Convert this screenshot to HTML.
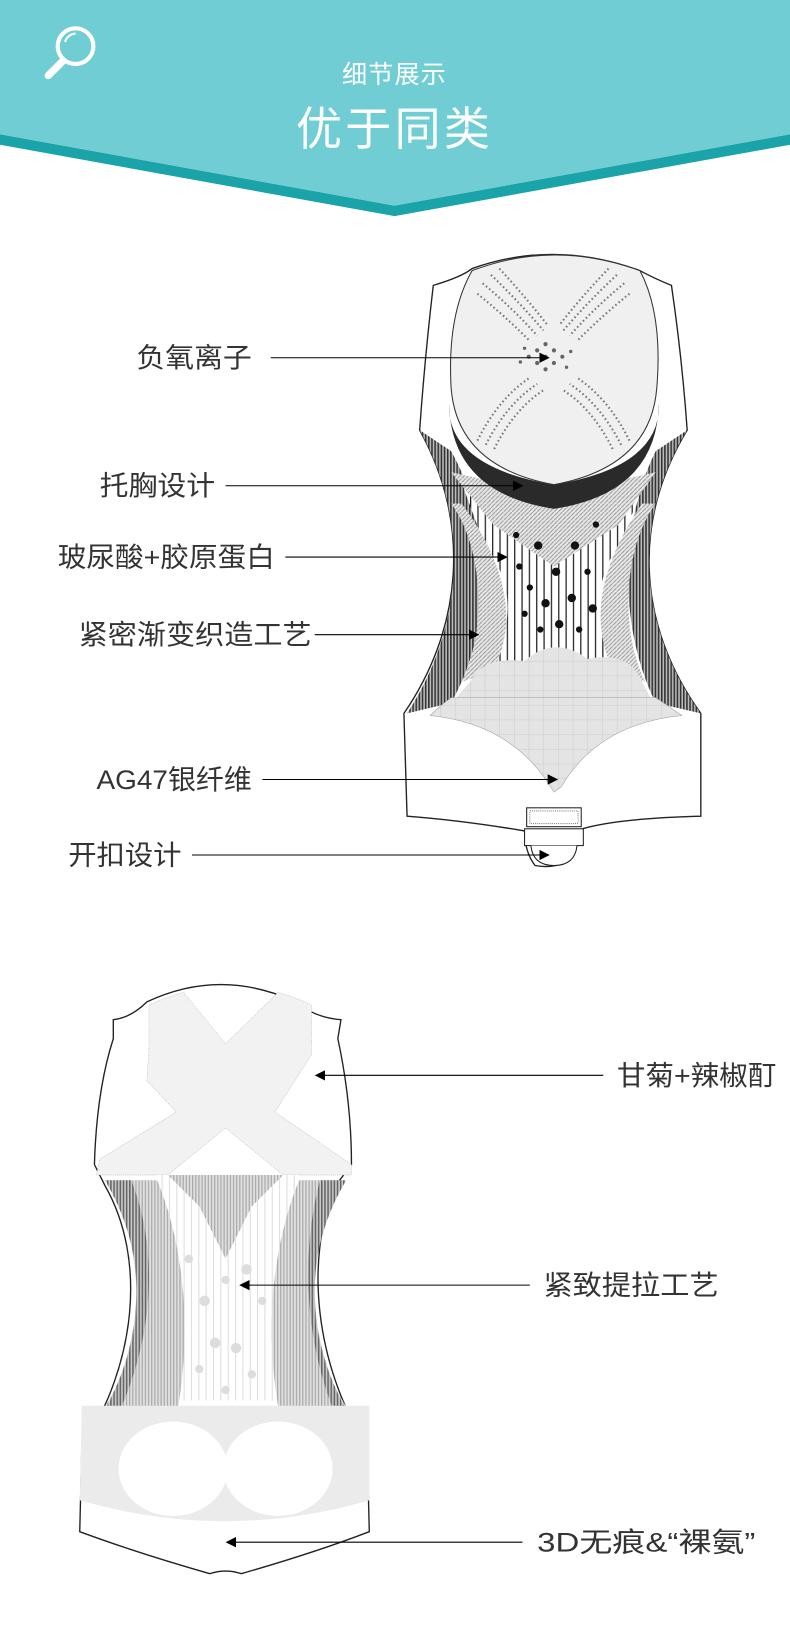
<!DOCTYPE html>
<html><head><meta charset="utf-8"><style>
html,body{margin:0;padding:0;background:#fff;}
svg{display:block;}
text{font-family:"Liberation Sans","Noto Sans CJK SC",sans-serif;}
</style></head><body>
<svg width="790" height="1645" viewBox="0 0 753 1568" preserveAspectRatio="none" xmlns="http://www.w3.org/2000/svg">
<defs>
<pattern id="dk" width="3" height="3" patternUnits="userSpaceOnUse"><rect width="3" height="3" fill="#bbb"/><rect width="1.5" height="3" fill="#333"/></pattern>
<pattern id="md" width="4" height="4" patternUnits="userSpaceOnUse"><rect width="4" height="4" fill="#e8e8e8"/><path d="M0,4 L4,0" stroke="#999" stroke-width="1"/></pattern>
<pattern id="vl" width="7" height="7" patternUnits="userSpaceOnUse"><rect width="7" height="7" fill="#fff"/><rect width="1.2" height="7" fill="#222"/></pattern>
<pattern id="mesh" width="14" height="14" patternUnits="userSpaceOnUse"><rect width="14" height="14" fill="#e4e4e4"/><path d="M0,0H14M0,0V14" stroke="#ccc" stroke-width="1"/></pattern>
<pattern id="lg" width="3" height="3" patternUnits="userSpaceOnUse"><rect width="3" height="3" fill="#e0e0e0"/><rect width="1.2" height="3" fill="#aaa"/></pattern>
<pattern id="lv" width="7" height="7" patternUnits="userSpaceOnUse"><rect width="7" height="7" fill="#fff"/><rect width="1" height="7" fill="#ddd"/></pattern>
<marker id="ar" markerWidth="10" markerHeight="10" refX="8" refY="5" orient="auto" markerUnits="userSpaceOnUse"><path d="M0,0 L10,5 L0,10Z" fill="#000"/></marker>
</defs>
<!-- header -->
<polygon points="0,128 376,196 753,128 753,138 376,206 0,138" fill="#1aa3a8"/>
<polygon points="0,0 753,0 753,128 376,196 0,128" fill="#6fcdd3"/>
<g fill="none" stroke="#fff" stroke-width="4">
<circle cx="72" cy="44" r="17"/>
<path d="M60,58 L46,72" stroke-width="7" stroke-linecap="round"/>
</g>
<path d="M62,40 A11,11 0 0 1 72,32" stroke="#fff" stroke-width="2" fill="none"/>
<text x="376" y="79" font-size="24" fill="#fff" text-anchor="middle" letter-spacing="1">细节展示</text>
<text x="376" y="138" font-size="44" fill="#fff" text-anchor="middle" letter-spacing="3">优于同类</text>

<!-- garment 1 -->
<path d="M413,272 Q440,264 450,256 Q528,228 610,258 Q625,266 640,272 Q650,340 655,410 C600,500 610,600 668,680 L668,778 Q590,780 555,790 Q545,800 540,822 Q525,828 510,825 Q500,812 500,792 Q440,782 388,778 L385,680 C440,600 450,500 400,410 Q405,340 413,272Z" fill="#fff" stroke="#222" stroke-width="1.3"/>
<path d="M400,410 C450,500 440,600 388,680 L430,670 C470,600 470,500 430,430Z" fill="url(#dk)"/>
<path d="M655,410 C600,500 610,600 668,680 L625,670 C590,600 590,500 625,430Z" fill="url(#dk)"/>
<path d="M440,460 L615,460 L590,520 C560,560 570,610 600,645 L458,645 C488,610 495,560 462,520Z" fill="url(#vl)"/>
<path d="M430,450 Q528,475 625,450 L590,500 L528,540 L470,500Z" fill="url(#md)"/>
<path d="M440,480 C470,520 500,580 470,640 L440,650 C465,600 460,520 430,480Z" fill="url(#md)"/>
<path d="M612,480 C585,520 555,580 585,640 L615,650 C590,600 595,520 625,480Z" fill="url(#md)"/>
<g fill="#111">
<circle cx="492" cy="510" r="3"/><circle cx="513" cy="520" r="4"/><circle cx="548" cy="520" r="4"/><circle cx="568" cy="500" r="3"/><circle cx="495" cy="540" r="3"/><circle cx="530" cy="545" r="4"/><circle cx="560" cy="545" r="3"/><circle cx="505" cy="560" r="3"/><circle cx="520" cy="575" r="4"/><circle cx="545" cy="570" r="4"/><circle cx="565" cy="580" r="4"/><circle cx="500" cy="585" r="3"/><circle cx="533" cy="595" r="4"/><circle cx="515" cy="600" r="3"/><circle cx="552" cy="600" r="3"/>
</g>
<path d="M448,650 Q460,625 500,630 Q528,605 560,628 Q600,620 612,650 L620,665 L435,665Z" fill="url(#mesh)"/>
<path d="M430,665 L625,665 Q640,675 650,682 Q570,690 535,750 L528,755 Q490,690 410,682 Q420,672 430,665Z" fill="url(#mesh)" stroke="#999" stroke-width="0.5"/>
<path d="M428,385 Q430,470 528,485 Q626,470 628,385 Q630,445 528,462 Q426,445 428,385Z" fill="#2a2a2a"/>
<path d="M450,258 Q528,228 610,258 Q632,300 626,370 Q620,445 528,462 Q436,445 430,370 Q426,300 450,258Z" fill="#f0f0f0" stroke="#333" stroke-width="1"/>
<g stroke="#777" stroke-width="2" stroke-dasharray="1.5,2.5" fill="none">
<path d="M455,280 Q480,300 505,325"/><path d="M460,270 Q490,295 512,320"/><path d="M468,262 Q495,288 518,315"/><path d="M476,256 Q500,282 522,310"/>
<path d="M600,280 Q575,300 550,325"/><path d="M595,270 Q565,295 543,320"/><path d="M588,262 Q560,288 537,315"/><path d="M580,256 Q555,282 533,310"/>
<path d="M455,420 Q475,380 505,360"/><path d="M463,424 Q483,385 512,366"/><path d="M471,428 Q490,390 518,372"/>
<path d="M600,420 Q580,380 550,360"/><path d="M592,424 Q572,385 543,366"/><path d="M584,428 Q565,390 537,372"/>
</g>
<g fill="#666"><circle cx="520" cy="340" r="2"/><circle cx="512" cy="334" r="2"/><circle cx="528" cy="334" r="2"/><circle cx="512" cy="346" r="2"/><circle cx="528" cy="346" r="2"/><circle cx="520" cy="328" r="2"/><circle cx="520" cy="352" r="2"/><circle cx="504" cy="340" r="2"/><circle cx="536" cy="340" r="2"/><circle cx="544" cy="335" r="1.6"/><circle cx="496" cy="345" r="1.6"/><circle cx="540" cy="350" r="1.6"/><circle cx="500" cy="332" r="1.6"/></g>
<rect x="502" y="770" width="52" height="18" fill="#fff" stroke="#222"/>
<rect x="505" y="773" width="46" height="12" fill="none" stroke="#888" stroke-dasharray="1,1"/>
<rect x="500" y="790" width="56" height="16" fill="#fff" stroke="#222"/>
<path d="M506,806 Q508,825 528,825 Q548,825 550,806" fill="#fff" stroke="#222"/>
<g stroke="#000" stroke-width="1" marker-end="url(#ar)">
<line x1="258" y1="341" x2="522" y2="341"/>
<line x1="215" y1="463" x2="497" y2="463"/>
<line x1="272" y1="531" x2="482" y2="531"/>
<line x1="300" y1="605" x2="455" y2="605"/>
<line x1="250" y1="743" x2="530" y2="743"/>
<line x1="183" y1="815" x2="522" y2="815"/>
</g>
<g font-size="26" fill="#333">
<text x="130" y="350" textLength="110" lengthAdjust="spacingAndGlyphs">负氧离子</text>
<text x="95" y="472" textLength="110" lengthAdjust="spacingAndGlyphs">托胸设计</text>
<text x="55" y="540" textLength="207" lengthAdjust="spacingAndGlyphs">玻尿酸+胶原蛋白</text>
<text x="75" y="614" textLength="222" lengthAdjust="spacingAndGlyphs">紧密渐变织造工艺</text>
<text x="92" y="752" textLength="148" lengthAdjust="spacingAndGlyphs">AG47银纤维</text>
<text x="65" y="824" textLength="108" lengthAdjust="spacingAndGlyphs">开扣设计</text>
</g>

<!-- garment 2 -->
<path d="M108,972 Q125,970 140,955 Q210,922 282,955 Q300,970 325,972 L322,990 Q335,1050 335,1110 L320,1130 C290,1200 300,1300 350,1380 L352,1460 Q300,1480 230,1500 Q215,1495 200,1500 Q130,1480 76,1460 L78,1380 C130,1300 140,1200 100,1130 L90,1110 Q92,1040 108,990Z" fill="#fff" stroke="#222" stroke-width="1.3"/>
<path d="M142,1000 L142,958 Q160,950 175,946 L215,995 L265,946 Q280,950 297,958 L297,1005 L262,1060 L335,1110 L335,1120 L270,1120 L215,1075 L160,1120 L92,1120 L95,1105 L168,1060 L140,1030Z" fill="#f2f2f2" stroke="#bbb" stroke-width="0.6" stroke-dasharray="1,1"/>
<path d="M160,1120 L270,1120 L240,1150 L215,1200 L190,1150Z" fill="url(#lg)"/>
<path d="M160,1120 L190,1150 L215,1200 L240,1150 L270,1120 L285,1120 C260,1200 260,1280 270,1335 L165,1335 C175,1280 175,1200 150,1120Z" fill="url(#lv)"/>
<path d="M100,1125 C145,1200 140,1290 90,1355 L170,1340 C180,1280 180,1200 150,1125Z" fill="url(#lg)"/>
<path d="M330,1125 C285,1200 290,1290 340,1355 L265,1340 C255,1280 255,1200 285,1125Z" fill="url(#lg)"/>
<path d="M100,1125 C145,1200 140,1290 80,1378 L95,1380 C145,1300 155,1200 125,1125Z" fill="url(#dk)" opacity="0.6"/>
<path d="M330,1125 C285,1200 290,1290 350,1378 L335,1380 C290,1300 285,1200 305,1125Z" fill="url(#dk)" opacity="0.6"/>
<g fill="#ddd"><circle cx="180" cy="1200" r="4"/><circle cx="195" cy="1240" r="5"/><circle cx="215" cy="1220" r="4"/><circle cx="235" cy="1210" r="5"/><circle cx="250" cy="1240" r="4"/><circle cx="205" cy="1280" r="5"/><circle cx="225" cy="1285" r="5"/><circle cx="190" cy="1305" r="4"/><circle cx="240" cy="1310" r="4"/><circle cx="215" cy="1325" r="4"/></g>
<path d="M78,1340 L352,1340 L352,1430 Q215,1470 76,1430Z" fill="#ebebeb"/>
<ellipse cx="165" cy="1400" rx="52" ry="45" fill="#fff"/>
<ellipse cx="265" cy="1400" rx="52" ry="45" fill="#fff"/>
<g stroke="#000" stroke-width="1" marker-end="url(#ar)">
<line x1="575" y1="1025" x2="302" y2="1025"/>
<line x1="505" y1="1225" x2="230" y2="1225"/>
<line x1="498" y1="1470" x2="217" y2="1470"/>
</g>
<g font-size="26" fill="#333">
<text x="588" y="1034" textLength="152" lengthAdjust="spacingAndGlyphs">甘菊+辣椒酊</text>
<text x="518" y="1234" textLength="167" lengthAdjust="spacingAndGlyphs">紧致提拉工艺</text>
<text x="512" y="1479" textLength="208" lengthAdjust="spacingAndGlyphs">3D无痕&amp;“裸氨”</text>
</g>
</svg>
</body></html>
